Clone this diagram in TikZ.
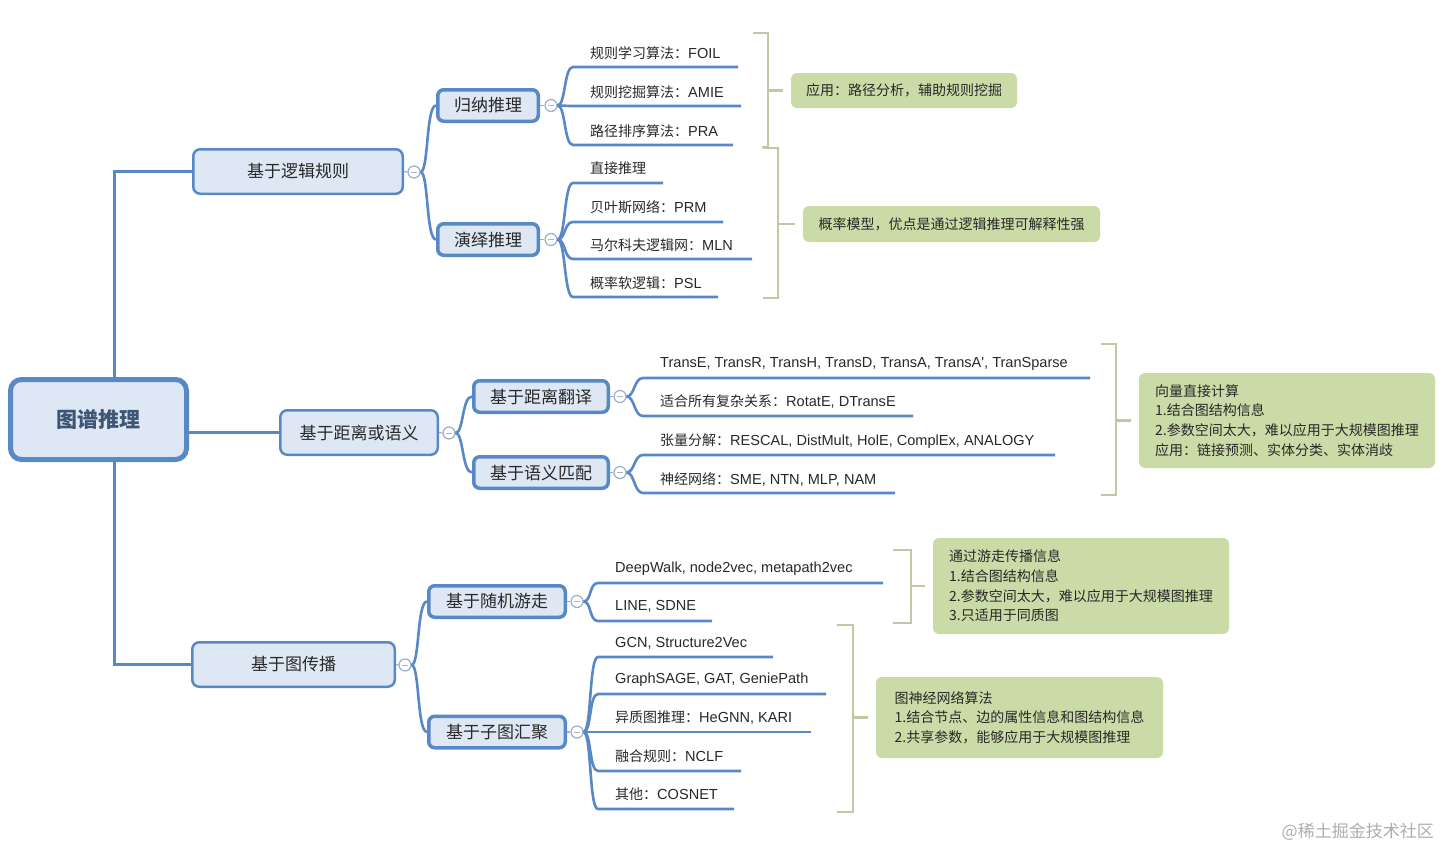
\documentclass[tikz,border=0pt]{standalone}
\usepackage{fontspec}
\setmainfont{Noto Sans CJK SC}
\newfontfamily\lat{Liberation Sans}[Scale=1.04]
\definecolor{mblue}{RGB}{88,136,198}
\definecolor{nfill}{RGB}{221,232,244}
\definecolor{cstroke}{RGB}{150,176,206}
\definecolor{brkc}{RGB}{192,201,163}
\definecolor{gfill}{RGB}{203,219,167}
\definecolor{txt}{RGB}{40,40,40}
\definecolor{roottxt}{RGB}{62,86,116}
\begin{document}
\begin{tikzpicture}[x=1pt,y=-1pt,
  rootbox/.style={draw=mblue, line width=5, fill=nfill, rounded corners=11, minimum width=176, minimum height=80, inner sep=0, font=\fontsize{21}{25}\selectfont\bfseries, text=roottxt},
  lone/.style={draw=mblue, line width=2.5, fill=nfill, rounded corners=7, minimum height=44.5, inner sep=0, font=\fontsize{17}{20}\selectfont, text=txt},
  ltwo/.style={draw=mblue, line width=3.5, fill=nfill, rounded corners=6, minimum height=31.5, inner sep=0, font=\fontsize{17}{20}\selectfont, text=txt},
  tog/.style={circle, draw=cstroke, line width=1.2, fill=white, minimum size=12, inner sep=0,
    path picture={\draw[gray!60, line width=1] ([xshift=-3]path picture bounding box.center) -- ([xshift=3]path picture bounding box.center);}},
  conn/.style={draw=mblue, line width=2.6},
  link/.style={draw=cstroke, line width=1.2},
  item/.style={anchor=west, inner sep=0, font=\fontsize{14}{17}\selectfont, text=txt},
  gbox/.style={fill=gfill, rounded corners=6, inner sep=0, align=left, font=\fontsize{14}{19.7}\selectfont, text=txt},
  brk/.style={draw=brkc, line width=2.4}
]
\useasboundingbox (0,0) rectangle (1440,849);

% ---------- nodes ----------
\node[rootbox] (root) at (98.5,419.5) {图谱推理};
\node[lone, minimum width=209.5] (A) at (298,171.5) {基于逻辑规则};
\node[lone, minimum width=157.5] (B) at (359,432.5) {基于距离或语义};
\node[lone, minimum width=202.5] (C) at (293.5,664.5) {基于图传播};

\node[ltwo, minimum width=100.5] (A1) at (488,105.5) {归纳推理};
\node[ltwo, minimum width=100.5] (A2) at (488,239.5) {演绎推理};
\node[ltwo, minimum width=134.5] (B1) at (541,396.5) {基于距离翻译};
\node[ltwo, minimum width=134.5] (B2) at (541,472.5) {基于语义匹配};
\node[ltwo, minimum width=136.5] (C1) at (497,601.5) {基于随机游走};
\node[ltwo, minimum width=136.5] (C2) at (497,732) {基于子图汇聚};

\node[tog] (cA) at (414,172) {};
\node[tog] (cA1) at (551,105.5) {};
\node[tog] (cA2) at (551,239.5) {};
\node[tog] (cB) at (449,433) {};
\node[tog] (cB1) at (620,396.5) {};
\node[tog] (cB2) at (620,472.5) {};
\node[tog] (cC) at (405,665) {};
\node[tog] (cC1) at (577,601.5) {};
\node[tog] (cC2) at (577,732) {};

% ---------- root connectors ----------
\draw[conn, line width=3] ([xshift=15.5]root.north) |- (A.west);
\draw[conn, line width=3] ([xshift=15.5]root.south) |- (C.west);
\draw[conn, line width=3] (root.east |- B.west) -- (B.west);

% ---------- toggle links ----------
\foreach \n/\c in {A/cA,A1/cA1,A2/cA2,B/cB,B1/cB1,B2/cB2,C/cC,C1/cC1,C2/cC2}
  \draw[link] (\n.east) -- (\c.west);

% ---------- level-2 connectors ----------
\draw[conn] (cA.east) .. controls +(8,0) and +(-10,0) .. (A1.west);
\draw[conn] (cA.east) .. controls +(8,0) and +(-10,0) .. (A2.west);
\draw[conn] (cB.east) .. controls +(8,0) and +(-10,0) .. (B1.west);
\draw[conn] (cB.east) .. controls +(8,0) and +(-10,0) .. (B2.west);
\draw[conn] (cC.east) .. controls +(8,0) and +(-10,0) .. (C1.west);
\draw[conn] (cC.east) .. controls +(8,0) and +(-10,0) .. (C2.west);

% ---------- items: 归纳推理 ----------
\coordinate (u1) at (573,67);   \coordinate (u1e) at (738,67);
\coordinate (u2) at (573,106);  \coordinate (u2e) at (741,106);
\coordinate (u3) at (573,145);  \coordinate (u3e) at (733,145);
\node[item] (t1) at (590,53) {规则学习算法：{\lat FOIL}};
\node[item] (t2) at (590,92) {规则挖掘算法：{\lat AMIE}};
\node[item] (t3) at (590,131) {路径排序算法：{\lat PRA}};
\foreach \u in {u1,u2,u3}
  \draw[conn] (cA1.east) .. controls +(8,0) and +(-9,0) .. (\u) -- (\u e);

% ---------- items: 演绎推理 ----------
\coordinate (u4) at (573,183);  \coordinate (u4e) at (663,183);
\coordinate (u5) at (573,222);  \coordinate (u5e) at (723,222);
\coordinate (u6) at (573,259);  \coordinate (u6e) at (752,259);
\coordinate (u7) at (573,297);  \coordinate (u7e) at (718,297);
\node[item] (t4) at (590,168.5) {直接推理};
\node[item] (t5) at (590,207.5) {贝叶斯网络：{\lat PRM}};
\node[item] (t6) at (590,245) {马尔科夫逻辑网：{\lat MLN}};
\node[item] (t7) at (590,283) {概率软逻辑：{\lat PSL}};
\foreach \u in {u4,u5,u6,u7}
  \draw[conn] (cA2.east) .. controls +(8,0) and +(-9,0) .. (\u) -- (\u e);

% ---------- items: 基于距离翻译 / 语义匹配 ----------
\coordinate (u8) at (643,378);   \coordinate (u8e) at (1090,378);
\coordinate (u9) at (643,416);   \coordinate (u9e) at (913,416);
\coordinate (u10) at (643,455);  \coordinate (u10e) at (1055,455);
\coordinate (u11) at (643,493);  \coordinate (u11e) at (895,493);
\node[item] (t8) at (660,364) {\lat TransE, TransR, TransH, TransD, TransA, TransA\textquotesingle, TranSparse};
\node[item] (t9) at (660,402) {适合所有复杂关系：{\lat RotatE, DTransE}};
\node[item] (t10) at (660,441) {张量分解：{\lat RESCAL, DistMult, HolE, ComplEx, ANALOGY}};
\node[item] (t11) at (660,479) {神经网络：{\lat SME, NTN, MLP, NAM}};
\foreach \u in {u8,u9}
  \draw[conn] (cB1.east) .. controls +(8,0) and +(-9,0) .. (\u) -- (\u e);
\foreach \u in {u10,u11}
  \draw[conn] (cB2.east) .. controls +(8,0) and +(-9,0) .. (\u) -- (\u e);

% ---------- items: 随机游走 / 子图汇聚 ----------
\coordinate (u12) at (598,583);  \coordinate (u12e) at (883,583);
\coordinate (u13) at (598,621);  \coordinate (u13e) at (712,621);
\coordinate (u14) at (598,657);  \coordinate (u14e) at (773,657);
\coordinate (u15) at (598,694);  \coordinate (u15e) at (826,694);
\coordinate (u16) at (598,732);  \coordinate (u16e) at (811,732);
\coordinate (u17) at (598,771);  \coordinate (u17e) at (741,771);
\coordinate (u18) at (598,809);  \coordinate (u18e) at (734,809);
\node[item] (t12) at (615,569) {\lat DeepWalk, node2vec, metapath2vec};
\node[item] (t13) at (615,606.5) {\lat LINE, SDNE};
\node[item] (t14) at (615,643) {\lat GCN, Structure2Vec};
\node[item] (t15) at (615,680) {\lat GraphSAGE, GAT, GeniePath};
\node[item] (t16) at (615,718) {异质图推理：{\lat HeGNN, KARI}};
\node[item] (t17) at (615,756.5) {融合规则：{\lat NCLF}};
\node[item] (t18) at (615,794.5) {其他：{\lat COSNET}};
\foreach \u in {u12,u13}
  \draw[conn] (cC1.east) .. controls +(8,0) and +(-9,0) .. (\u) -- (\u e);
\foreach \u in {u14,u15,u16,u17,u18}
  \draw[conn] (cC2.east) .. controls +(8,0) and +(-9,0) .. (\u) -- (\u e);

% ---------- green notes ----------
\node[gbox, minimum width=226, minimum height=35] (G1) at (904,90.5) {应用：路径分析，辅助规则挖掘};
\node[gbox, minimum width=297, minimum height=36] (G2) at (951.5,224) {概率模型，优点是通过逻辑推理可解释性强};
\node[gbox, minimum width=296, minimum height=95] (G3) at (1287,420.5) {向量直接计算\\1.结合图结构信息\\2.参数空间太大，难以应用于大规模图推理\\应用：链接预测、实体分类、实体消歧};
\node[gbox, minimum width=296, minimum height=96] (G4) at (1081,586) {通过游走传播信息\\1.结合图结构信息\\2.参数空间太大，难以应用于大规模图推理\\3.只适用于同质图};
\node[gbox, minimum width=287, minimum height=81] (G5) at (1019.5,717.5) {图神经网络算法\\1.结合节点、边的属性信息和图结构信息\\2.共享参数，能够应用于大规模图推理};

% ---------- brackets ----------
\draw[brk] (753,33) -- (768,33) -- (768,147) -- (762,147);
\coordinate (b1) at (768,90.5);
\draw[brk] (b1) -- ([xshift=-8]G1.west);
\draw[brk] (763,148) -- (778,148) -- (778,298) -- (763,298);
\coordinate (b2) at (778,224);
\draw[brk] (b2) -- ([xshift=-8]G2.west);
\draw[brk] (1101,344) -- (1116,344) -- (1116,495) -- (1101,495);
\coordinate (b3) at (1116,420.5);
\draw[brk] (b3) -- ([xshift=-8]G3.west);
\draw[brk] (893,550) -- (911,550) -- (911,623) -- (893,623);
\coordinate (b4) at (911,586);
\draw[brk] (b4) -- ([xshift=-8]G4.west);
\draw[brk] (837,625) -- (853,625) -- (853,812) -- (837,812);
\coordinate (b5) at (853,717.5);
\draw[brk] (b5) -- ([xshift=-8]G5.west);

% ---------- watermark ----------
\node[anchor=east, inner sep=0, text=black!32, font=\fontsize{17}{20}\selectfont] (wm) at (1434,832) {@稀土掘金技术社区};
\end{tikzpicture}
\end{document}
